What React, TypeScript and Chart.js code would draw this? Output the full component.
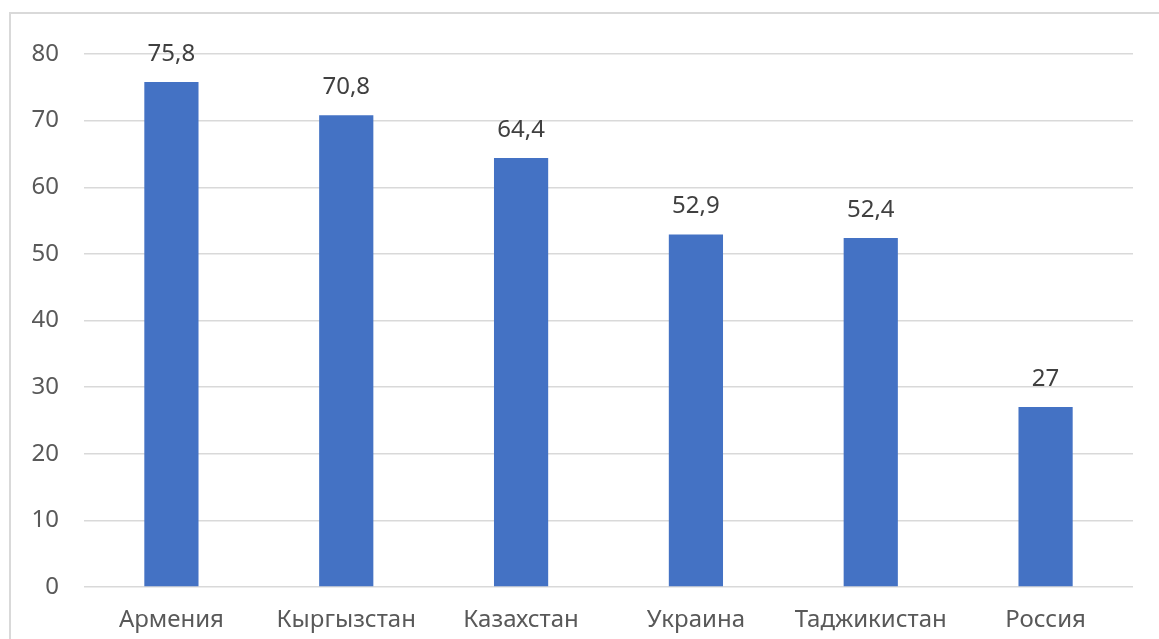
import React, { useEffect, useRef } from "react";
import { Chart, registerables } from "chart.js";

Chart.register(...registerables);

const categories = ["Армения", "Кыргызстан", "Казахстан", "Украина", "Таджикистан", "Россия"];
const values = [75.8, 70.8, 64.4, 52.9, 52.4, 27];
const valueLabels = ["75,8", "70,8", "64,4", "52,9", "52,4", "27"];
const yTicks = [0, 10, 20, 30, 40, 50, 60, 70, 80];

const FONT = "'Noto Sans', 'Open Sans', sans-serif";
const TEXT_COLOR = "#595959";
const FONT_SIZE = 24;

const dataLabelPlugin = {
  id: "dataLabels",
  afterDatasetsDraw(chart: any) {
    const ctx = chart.ctx;
    const meta = chart.getDatasetMeta(0);
    ctx.save();
    ctx.font = `${FONT_SIZE}px ${FONT}`;
    ctx.fillStyle = "#404040";
    ctx.textAlign = "center";
    ctx.textBaseline = "middle";
    meta.data.forEach((bar: any, i: number) => {
      ctx.fillText(valueLabels[i], bar.x, bar.y - 28);
    });
    ctx.restore();
  },
};

export default function App() {
  const ref = useRef<HTMLCanvasElement>(null);
  useEffect(() => {
    if (!ref.current) return;
    const chart = new Chart(ref.current, {
      type: "bar",
      data: {
        labels: categories,
        datasets: [
          {
            data: values,
            backgroundColor: "#4472C4",
            barPercentage: 0.31,
            categoryPercentage: 1,
          },
        ],
      },
      options: {
        animation: false,
        responsive: false,
        maintainAspectRatio: false,
        layout: { padding: { left: 20, right: 26, top: 54, bottom: 0 } },
        plugins: { legend: { display: false }, tooltip: { enabled: false } },
        scales: {
          x: {
            grid: { display: false, drawTicks: false },
            border: { display: false },
            ticks: {
              color: TEXT_COLOR,
              font: { family: FONT, size: FONT_SIZE },
              padding: 19,
              maxRotation: 0,
              autoSkip: false,
            },
            afterFit: (s: any) => {
              s.height = 52;
            },
          },
          y: {
            min: 0,
            max: 80,
            afterBuildTicks: (s: any) => {
              s.ticks = yTicks.map((v) => ({ value: v }));
            },
            grid: { color: "#d9d9d9", lineWidth: 1.5, drawTicks: false },
            border: { display: false },
            ticks: {
              color: TEXT_COLOR,
              font: { family: FONT, size: FONT_SIZE },
              padding: 25,
            },
            afterFit: (s: any) => {
              s.width = 64;
            },
          },
        },
      },
      plugins: [dataLabelPlugin],
    });
    return () => chart.destroy();
  }, []);

  return (
    <div style={{ position: "absolute", left: 0, top: 0, width: 1159, height: 639, overflow: "hidden", background: "#fff" }}>
      <div
        style={{
          position: "absolute",
          left: 9,
          top: 12,
          width: 1200,
          height: 700,
          border: "2px solid #d9d9d9",
          boxSizing: "border-box",
        }}
      />
      <canvas ref={ref} width={1159} height={639} style={{ position: "absolute", left: 0, top: 0 }} />
    </div>
  );
}
